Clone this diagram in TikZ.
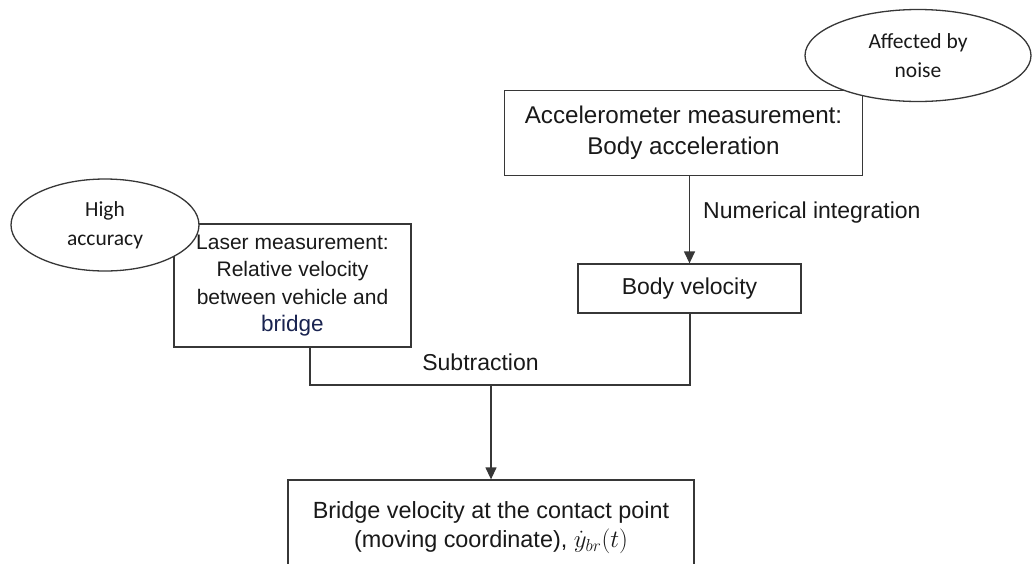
\documentclass[tikz,border=0pt]{standalone}
\usepackage{fontspec}
\setmainfont{Liberation Sans}
\newfontfamily\calfont{Carlito}
\usetikzlibrary{shapes.geometric,arrows.meta}
\definecolor{linec}{RGB}{55,55,55}
\definecolor{txtc}{RGB}{25,25,25}
\definecolor{bridgec}{RGB}{25,35,80}
\begin{document}
\begin{tikzpicture}[x=1pt,y=-1pt,
  box/.style={draw=linec,line width=1.3pt,fill=white,align=center,text=txtc,inner sep=0pt},
  oval/.style={draw=linec,line width=1.3pt,fill=white,ellipse,align=center,text=txtc,inner sep=0pt,font=\calfont\fontsize{21.5}{29}\selectfont},
  conn/.style={draw=linec,line width=1.3pt},
  arr/.style={conn,-{Triangle[length=12pt,width=11pt]}},
  lbl/.style={text=txtc,inner sep=0pt,font=\fontsize{23}{28}\selectfont}]
\useasboundingbox (0,0) rectangle (1032,563);
\clip (0,0) rectangle (1032,563);
% boxes
\node[box,minimum width=358pt,minimum height=85pt,font=\fontsize{24.2}{31}\selectfont] (acc) at (683.5,133) {Accelerometer measurement:\\[0pt]Body acceleration};
\node[box,minimum width=223pt,minimum height=49pt,font=\fontsize{23}{28}\selectfont] (bv) at (689.5,288.5) {Body velocity};
\node[box,minimum width=237pt,minimum height=123pt,font=\fontsize{21}{27.5}\selectfont] (las) at (292.5,285.5) {Laser measurement:\\Relative velocity\\between vehicle and\\{\color{bridgec}\fontsize{22.5}{27.5}\selectfont bridge}};
\node[box,minimum width=406pt,minimum height=96pt,font=\fontsize{23.4}{29}\selectfont] (res) at (491,528) {Bridge velocity at the contact point\\(moving coordinate), $\dot{y}_{br}(t)$};
% ellipses
\node[oval,minimum width=188pt,minimum height=92pt] (hi) at (105,225) {High\\accuracy};
\node[oval,minimum width=226pt,minimum height=92pt] (noise) at (918,55.5) {Affected by\\noise};
% connectors
\coordinate (jl) at (310,385);
\coordinate (jr) at (690,385);
\coordinate (jm) at (491,385);
\draw[arr] (acc.south -| bv.north) -- (bv.north);
\draw[conn] (las.south -| jl) -- (jl) -- (jr) -- (bv.south -| jr);
\draw[arr] (jm) -- (res.north);
% labels
\node[lbl,anchor=west] (numint) at (703,213) {Numerical integration};
\node[lbl] (sub) at (480.5,362) {Subtraction};
\end{tikzpicture}
\end{document}
